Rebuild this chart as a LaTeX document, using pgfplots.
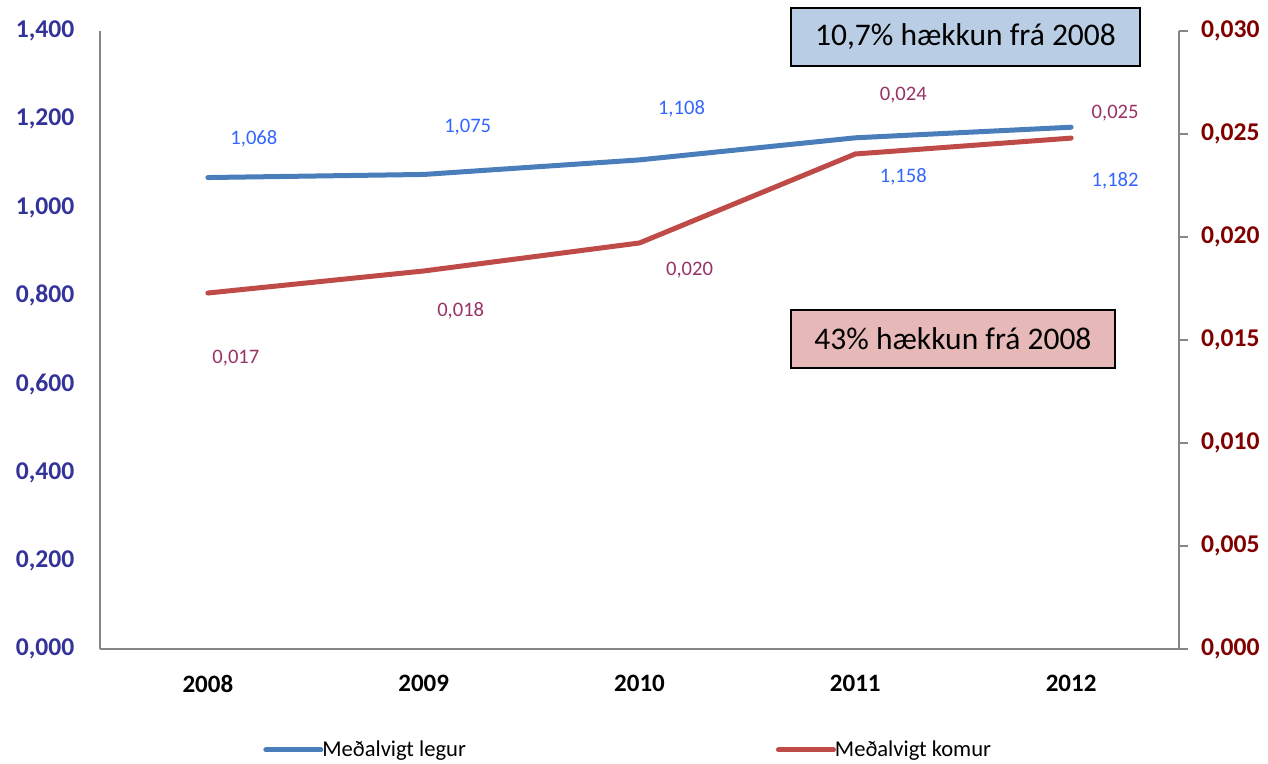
\documentclass[border=0pt]{standalone}
\usepackage{fontspec}
\setmainfont{Carlito}
\usepackage{pgfplots}
\pgfplotsset{compat=1.18}
\definecolor{bl}{HTML}{4A7EBB}
\definecolor{rd}{HTML}{BE4B48}
\definecolor{lefttick}{HTML}{333399}
\definecolor{righttick}{HTML}{800000}
\definecolor{bllab}{HTML}{3366FF}
\definecolor{rdlab}{HTML}{993366}
\definecolor{axgray}{HTML}{868686}
\definecolor{boxbl}{HTML}{B9CDE5}
\definecolor{boxrd}{HTML}{E6B9B8}

\pgfplotstableread{
x y dx dy
0 1.068 23 19.5
1 1.075 22 23.5
2 1.108 21 25.5
3 1.158 24 -19.5
4 1.182 22 -27
}\legur
\pgfplotstableread{
x y dx dy
0 0.01728 14 -32.5
1 0.01835 18.5 -20
2 0.01971 25 -13.5
3 0.02403 24 29.5
4 0.02480 22 12.5
}\komur

\begin{document}
\begin{tikzpicture}
\path[use as bounding box] (-50pt,-57.5pt) rectangle (584pt,324.5pt);
\pgfplotsset{common/.style={
  width=539.5pt, height=309pt, scale only axis,
  at={(0pt,0pt)}, anchor=south west,
  xmin=-0.5, xmax=4.5, xtick={0,1,2,3,4},
  clip=false,
  /pgf/number format/assume math mode=true,
  scaled y ticks=false,
  axis line style={-, axgray, line width=0.6pt},
  tick style={axgray, line width=0.6pt},
  legend image code/.code={\draw[##1, line cap=round] (0pt,0pt) -- (27.5pt,0pt);},
}}
\begin{axis}[common,
  axis x line*=bottom, axis y line*=left,
  ymin=0, ymax=1.4,
  ytick={0,0.2,0.4,0.6,0.8,1,1.2,1.4},
  major tick length=0pt,
  xticklabels={2008,2009,2010,2011,2012},
  xticklabel style={font=\bfseries\fontsize{12.5}{15}\selectfont, text=black, yshift=-9.5pt},
  yticklabel style={font=\bfseries\fontsize{12.8}{15}\selectfont, text=lefttick, xshift=-9.3pt,
    /pgf/number format/.cd, fixed, fixed zerofill, precision=3, use comma, 1000 sep={}},
]
\addplot[bl, line width=2.5pt, line cap=round,
  nodes near coords={\pgfmathprintnumber[fixed,fixed zerofill,precision=3,use comma]{\pgfplotspointmeta}},
  point meta=y,
  visualization depends on={\thisrow{dx}\as\dx},
  visualization depends on={\thisrow{dy}\as\dy},
  every node near coord/.append style={anchor=center, inner sep=0pt, xshift=\dx pt, yshift=\dy pt,
    font=\fontsize{10.3}{12}\selectfont, text=bllab},
] table[x=x,y=y] {\legur};
\end{axis}
\begin{axis}[common,
  axis x line=none, axis y line*=right,
  ymin=0, ymax=0.03,
  ytick={0,0.005,0.01,0.015,0.02,0.025,0.03},
  tick align=outside, major tick length=4.5pt,
  yticklabel style={font=\bfseries\fontsize{12.8}{15}\selectfont, text=righttick, xshift=3pt,
    /pgf/number format/.cd, fixed, fixed zerofill, precision=3, use comma, 1000 sep={}},
  legend columns=2,
  legend style={at={(0.151,-0.1634)}, anchor=west, draw=none, fill=none, inner sep=0pt,
    font=\fontsize{11.3}{13}\selectfont,
    /tikz/every odd column/.append style={column sep=-2.5pt},
    /tikz/every even column/.append style={column sep=153pt}},
]
\addlegendimage{bl, line width=2.5pt}
\addlegendentry{Meðalvigt legur}
\addplot[rd, line width=2.5pt, line cap=round,
  nodes near coords={\pgfmathprintnumber[fixed,fixed zerofill,precision=3,use comma]{\pgfplotspointmeta}},
  point meta=y,
  visualization depends on={\thisrow{dx}\as\dx},
  visualization depends on={\thisrow{dy}\as\dy},
  every node near coord/.append style={anchor=center, inner sep=0pt, xshift=\dx pt, yshift=\dy pt,
    font=\fontsize{10.3}{12}\selectfont, text=rdlab},
] table[x=x,y=y] {\komur};
\addlegendentry{Meðalvigt komur}
\draw[fill=boxbl, draw=black, line width=0.6pt] (axis description cs:0.6404,1.0372) rectangle (axis description cs:0.9639,0.9434);
\node[font=\fontsize{15.75}{18}\selectfont, text=black] at (axis description cs:0.8021,0.9903) {10,7\% hækkun frá 2008};
\draw[fill=boxrd, draw=black, line width=0.6pt] (axis description cs:0.6404,0.5485) rectangle (axis description cs:0.9407,0.4547);
\node[font=\fontsize{15.75}{18}\selectfont, text=black] at (axis description cs:0.7905,0.5016) {43\% hækkun frá 2008};
\end{axis}
\end{tikzpicture}
\end{document}
